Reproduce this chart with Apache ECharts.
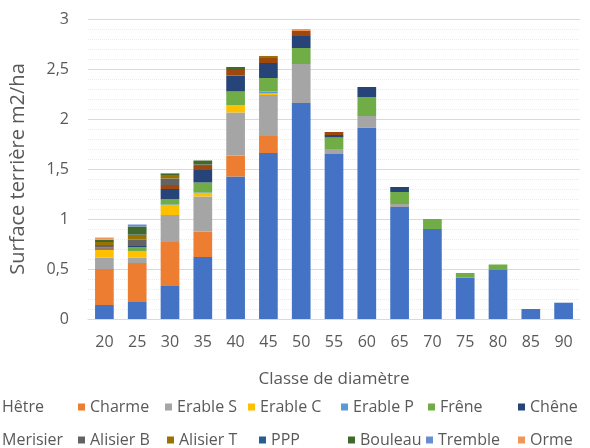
<!DOCTYPE html>
<html>
<head>
<meta charset="utf-8">
<script src="https://cdn.jsdelivr.net/npm/echarts@6/dist/echarts.min.js"></script>
<style>
  html, body { margin: 0; padding: 0; background: #fff; }
  #chart { width: 590px; height: 448px; }
</style>
</head>
<body>
<div id="chart"></div>
<script>
// Diameter classes (cm)
const categories = ['20', '25', '30', '35', '40', '45', '50', '55', '60', '65', '70', '75', '80', '85', '90'];
const yTicks = [0, 0.5, 1, 1.5, 2, 2.5, 3];

// Basal area per species and diameter class (m2/ha)
const hetre     = [0.14, 0.17, 0.33, 0.62, 1.425, 1.66, 2.16, 1.65, 1.915, 1.12, 0.90, 0.415, 0.49, 0.10, 0.163];
const charme    = [0.36, 0.39, 0.44, 0.255, 0.21, 0.17, 0, 0, 0, 0, 0, 0, 0, 0, 0];
const erableS   = [0.115, 0.055, 0.27, 0.35, 0.43, 0.41, 0.39, 0.05, 0.115, 0.03, 0, 0, 0, 0, 0];
const erableC   = [0.075, 0.065, 0.10, 0.035, 0.075, 0.015, 0, 0, 0, 0, 0, 0, 0, 0, 0];
const erableP   = [0.005, 0, 0.005, 0.005, 0, 0.02, 0, 0, 0, 0, 0, 0, 0, 0, 0];
const frene     = [0, 0.04, 0.055, 0.10, 0.135, 0.135, 0.16, 0.115, 0.19, 0.12, 0.10, 0.045, 0.055, 0, 0];
const chene     = [0.01, 0.01, 0.10, 0.125, 0.16, 0.15, 0.12, 0.025, 0.10, 0.05, 0, 0, 0, 0, 0];
const merisier  = [0.01, 0, 0.04, 0.04, 0.055, 0.05, 0.05, 0.03, 0, 0, 0, 0, 0, 0, 0];
const alisierB  = [0.025, 0.065, 0.065, 0.015, 0, 0, 0, 0, 0, 0, 0, 0, 0, 0, 0];
const alisierT  = [0.03, 0.045, 0.035, 0, 0, 0.02, 0, 0, 0, 0, 0, 0, 0, 0, 0];
const ppp       = [0.01, 0.005, 0, 0, 0, 0, 0, 0, 0, 0, 0, 0, 0, 0, 0];
const bouleau   = [0.01, 0.08, 0.015, 0.04, 0.03, 0, 0, 0, 0, 0, 0, 0, 0, 0, 0];
const tremble   = [0.005, 0.02, 0.005, 0, 0, 0, 0, 0, 0, 0, 0, 0, 0, 0, 0];
const orme      = [0.02, 0, 0, 0, 0, 0, 0.02, 0, 0, 0, 0, 0, 0, 0, 0];

const speciesNames = ['Hêtre', 'Charme', 'Erable S', 'Erable C', 'Erable P', 'Frêne', 'Chêne',
                      'Merisier', 'Alisier B', 'Alisier T', 'PPP', 'Bouleau', 'Tremble', 'Orme'];
const speciesValues = [hetre, charme, erableS, erableC, erableP, frene, chene,
                       merisier, alisierB, alisierT, ppp, bouleau, tremble, orme];
const speciesColors = ['#4472C4', '#ED7D31', '#A5A5A5', '#FFC000', '#5B9BD5', '#70AD47', '#264478',
                       '#9E480E', '#636363', '#997300', '#255E91', '#43682B', '#698ED0', '#F1975A'];

const FONT = '"Open Sans", "Noto Sans", sans-serif';
const TEXT = '#595959';

// Legend entries laid out on two rows of seven (text start x)
const legendRow1 = [2, 90, 177, 260, 353, 440, 530];
const legendRow2 = [2, 90, 179, 271, 360, 438, 530];
const legends = speciesNames.map((name, i) => {
  const row = i < 7 ? 0 : 1;
  const textX = (row === 0 ? legendRow1 : legendRow2)[i % 7];
  return {
    data: [{ name: name, icon: 'rect' }],
    left: textX - 12,
    top: row === 0 ? 399 : 432,
    itemWidth: 7,
    itemHeight: 7,
    itemGap: 0,
    padding: 0,
    selectedMode: false,
    textStyle: { color: TEXT, fontSize: 16, fontFamily: FONT, padding: [0, 0, 0, 0] }
  };
});

const series = speciesNames.map((name, i) => ({
  name: name,
  type: 'bar',
  stack: 'total',
  barWidth: '57%',
  itemStyle: { color: speciesColors[i] },
  emphasis: { disabled: true },
  data: speciesValues[i]
}));

const chart = echarts.init(document.getElementById('chart'), null, { renderer: 'canvas' });
chart.setOption({
  animation: false,
  color: speciesColors,
  grid: { left: 82, right: 10, top: 19, bottom: 129, containLabel: false },
  legend: legends,
  xAxis: {
    type: 'category',
    data: categories,
    name: 'Classe de diamètre',
    nameLocation: 'middle',
    nameGap: 52,
    nameTextStyle: { color: TEXT, fontSize: 17, fontFamily: FONT },
    axisLine: { show: true, lineStyle: { color: '#d9d9d9', width: 1 } },
    axisTick: { show: false },
    splitLine: { show: false },
    splitArea: { show: false },
    axisLabel: { color: TEXT, fontSize: 16, fontFamily: FONT, margin: 15 }
  },
  yAxis: {
    type: 'value',
    min: yTicks[0],
    max: yTicks[yTicks.length - 1],
    interval: 0.5,
    name: 'Surface terrière m2/ha',
    nameLocation: 'middle',
    nameGap: 60,
    nameTextStyle: { color: TEXT, fontSize: 20, fontFamily: FONT },
    axisLine: { show: false },
    axisTick: { show: false },
    axisLabel: {
      color: TEXT, fontSize: 16, fontFamily: FONT, margin: 19,
      formatter: v => String(v).replace('.', ',')
    },
    splitLine: { show: true, lineStyle: { color: '#d9d9d9', width: 1 } },
    minorTick: { show: false, splitNumber: 5 },
    minorSplitLine: { show: true, lineStyle: { color: '#ebebeb', width: 1, type: 'dotted' } }
  },
  series: series
});
</script>
</body>
</html>
